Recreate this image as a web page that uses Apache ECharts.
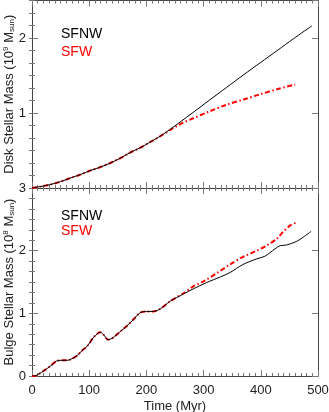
<!DOCTYPE html>
<html>
<head>
<meta charset="utf-8">
<script src="https://cdn.jsdelivr.net/npm/echarts@6/dist/echarts.min.js"></script>
<style>
  html, body { margin: 0; padding: 0; background: #fff; }
  #charts { width: 329px; height: 412px; }
</style>
</head>
<body>
<div id="charts"></div>
<script>
// disk stellar mass (10^9 Msun), top panel
let diskTimeNW = [0, 15, 31, 50, 66, 85, 101, 120, 136, 155, 171, 190, 206, 224, 241, 259, 282, 310, 340, 370, 399, 430, 457, 489];
let diskNW = [0, 0.02, 0.044, 0.085, 0.13, 0.18, 0.23, 0.28, 0.33, 0.40, 0.47, 0.54, 0.61, 0.69, 0.78, 0.88, 1.01, 1.17, 1.34, 1.51, 1.67, 1.84, 1.99, 2.16];
let diskTimeW = [0, 15, 31, 50, 66, 85, 101, 120, 136, 155, 171, 190, 206, 224, 241, 259, 282, 310, 340, 370, 399, 430, 460];
let diskW = [0, 0.02, 0.044, 0.085, 0.13, 0.18, 0.23, 0.28, 0.33, 0.40, 0.47, 0.54, 0.61, 0.69, 0.77, 0.85, 0.93, 1.02, 1.11, 1.18, 1.25, 1.32, 1.38];

// bulge stellar mass (10^8 Msun), bottom panel
let bulgeTimeNW = [0, 5, 10, 25, 35, 43, 52, 60, 66, 78, 88, 96, 107, 115, 119, 125, 133, 140, 148, 157, 166, 178, 189, 200, 212, 224, 241, 265, 282, 305, 329, 346, 369, 393, 407, 425, 434, 445, 463, 475, 488];
let bulgeNW = [0, 0, 0.02, 0.11, 0.18, 0.24, 0.25, 0.25, 0.26, 0.32, 0.41, 0.47, 0.61, 0.68, 0.70, 0.66, 0.58, 0.60, 0.66, 0.73, 0.80, 0.91, 1.01, 1.03, 1.03, 1.07, 1.19, 1.31, 1.39, 1.49, 1.58, 1.65, 1.78, 1.87, 1.91, 2.03, 2.08, 2.09, 2.15, 2.22, 2.31];
let bulgeTimeW = [0, 5, 10, 25, 35, 43, 52, 60, 66, 78, 88, 96, 107, 115, 119, 125, 133, 140, 148, 157, 166, 178, 189, 200, 212, 224, 241, 265, 282, 300, 323, 346, 369, 393, 410, 428, 440, 451, 462];
let bulgeW = [0, 0, 0.02, 0.11, 0.18, 0.24, 0.25, 0.25, 0.26, 0.32, 0.41, 0.47, 0.61, 0.68, 0.70, 0.66, 0.58, 0.60, 0.66, 0.73, 0.80, 0.91, 1.01, 1.03, 1.03, 1.07, 1.19, 1.32, 1.43, 1.51, 1.64, 1.78, 1.90, 2.00, 2.08, 2.19, 2.31, 2.40, 2.45];

let xTicks = [0, 100, 200, 300, 400, 500];
let seriesNames = ["SFNW", "SFW"];

let font = "Liberation Sans";
let axisColor = "#444";
let tickColor = "#777";

function zip(xs, ys) {
  return xs.map(function (x, i) { return [x, ys[i]]; });
}

function xAxis(grid, pos, labels) {
  return {
    type: "value", gridIndex: grid, position: pos,
    min: xTicks[0], max: xTicks[xTicks.length - 1], interval: 100,
    axisLine: { show: true, onZero: false, lineStyle: { color: axisColor, width: 1 } },
    axisTick: { show: true, inside: true, length: 6, lineStyle: { color: tickColor } },
    minorTick: { show: true, splitNumber: 10, length: 3, lineStyle: { color: tickColor } },
    splitLine: { show: false },
    axisLabel: { show: labels, color: "#222", fontSize: 13, fontFamily: font, margin: 8 },
  };
}

function yMajor(grid, pos, max, labels, name, extra) {
  let a = {
    type: "value", gridIndex: grid, position: pos,
    min: 0, max: max, interval: 1,
    axisLine: { show: true, onZero: false, lineStyle: { color: axisColor, width: 1 } },
    axisTick: { show: true, inside: true, length: 6, lineStyle: { color: tickColor } },
    splitLine: { show: false },
    axisLabel: { show: labels, color: "#222", fontSize: 13, fontFamily: font, margin: 6 },
  };
  if (name) {
    a.name = name;
    a.nameLocation = "middle";
    a.nameRotate = 90;
    a.nameGap = 16;
    a.nameMoveOverlap = false;
    a.nameTextStyle = {
      color: "#222", fontSize: 13, fontFamily: font,
      rich: {
        sup: { fontSize: 8, fontFamily: font, color: "#222", verticalAlign: "top", lineHeight: 14 },
        sub: { fontSize: 8, fontFamily: font, color: "#222", verticalAlign: "bottom", lineHeight: 14 },
      },
    };
  }
  return Object.assign(a, extra || {});
}

function yMinor(grid, pos, max) {
  return {
    type: "value", gridIndex: grid, position: pos,
    min: 0, max: max, interval: 1 / 6,
    axisLine: { show: false },
    axisTick: { show: true, inside: true, length: 3, lineStyle: { color: tickColor } },
    splitLine: { show: false },
    axisLabel: { show: false },
  };
}

let myChart = echarts.init(document.getElementById("charts"));
let option = {
  animation: false,
  backgroundColor: "#fff",
  grid: [
    { left: 32, right: 11, top: 0.5, height: 187.5, containLabel: false, outerBoundsMode: "none" },
    { left: 32, right: 11, top: 188, height: 188, containLabel: false, outerBoundsMode: "none" },
  ],
  xAxis: [
    xAxis(0, "bottom", false),
    xAxis(0, "top", false),
    Object.assign(xAxis(1, "bottom", true), {
      name: "Time (Myr)", nameLocation: "middle", nameGap: 24, nameMoveOverlap: false,
      nameTextStyle: { color: "#222", fontSize: 13, fontFamily: font },
    }),
    xAxis(1, "top", false),
  ],
  yAxis: [
    yMajor(0, "left", 2.5, true, "Disk Stellar Mass (10{sup|9} M{sub|sun})",
      { axisLabel: { color: "#222", fontSize: 13, fontFamily: font, margin: 6, showMinLabel: false, showMaxLabel: false } }),
    yMajor(0, "right", 2.5, false),
    yMinor(0, "left", 2.5),
    yMinor(0, "right", 2.5),
    yMajor(1, "left", 3, true, "Bulge Stellar Mass (10{sup|8} M{sub|sun})"),
    yMajor(1, "right", 3, false),
    yMinor(1, "left", 3),
    yMinor(1, "right", 3),
  ],
  legend: [
    {
      orient: "vertical", left: 51, top: 22, itemWidth: 0, itemHeight: 0, itemGap: 4,
      selectedMode: false,
      textStyle: { fontSize: 14, fontFamily: font },
      data: [
        { name: seriesNames[0], icon: "none", textStyle: { color: "#000" } },
        { name: seriesNames[1], icon: "none", textStyle: { color: "#ff0000" } },
      ],
    },
    {
      orient: "vertical", left: 51, top: 204, itemWidth: 0, itemHeight: 0, itemGap: 1,
      selectedMode: false,
      textStyle: { fontSize: 14, fontFamily: font },
      data: [
        { name: seriesNames[0], icon: "none", textStyle: { color: "#000" } },
        { name: seriesNames[1], icon: "none", textStyle: { color: "#ff0000" } },
      ],
    },
  ],
  series: [
    {
      name: seriesNames[0], type: "line", xAxisIndex: 0, yAxisIndex: 0,
      data: zip(diskTimeNW, diskNW), showSymbol: false, smooth: 0.3,
      lineStyle: { color: "#000", width: 1 }, itemStyle: { color: "#000" }, z: 2,
    },
    {
      name: seriesNames[1], type: "line", xAxisIndex: 0, yAxisIndex: 0,
      data: zip(diskTimeW, diskW), showSymbol: false, smooth: 0.3,
      lineStyle: { color: "#ff0000", width: 2, type: [5, 2.5, 1.5, 2.5] }, itemStyle: { color: "#ff0000" }, z: 1,
    },
    {
      name: seriesNames[0], type: "line", xAxisIndex: 2, yAxisIndex: 4,
      data: zip(bulgeTimeNW, bulgeNW), showSymbol: false, smooth: 0.3,
      lineStyle: { color: "#000", width: 1 }, itemStyle: { color: "#000" }, z: 2,
    },
    {
      name: seriesNames[1], type: "line", xAxisIndex: 2, yAxisIndex: 4,
      data: zip(bulgeTimeW, bulgeW), showSymbol: false, smooth: 0.3,
      lineStyle: { color: "#ff0000", width: 2, type: [5, 2.5, 1.5, 2.5] }, itemStyle: { color: "#ff0000" }, z: 1,
    },
  ],
};
myChart.setOption(option);
</script>
</body>
</html>
